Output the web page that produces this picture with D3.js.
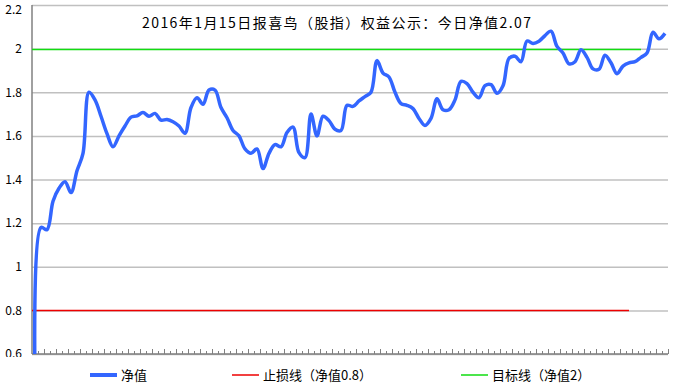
<!DOCTYPE html>
<html>
<head>
<meta charset="utf-8">
<script src="https://cdn.jsdelivr.net/npm/d3@7"></script>
<style>
  body { margin: 0; background: #fff; }
  svg text { font-family: "Noto Sans CJK SC", "DejaVu Sans", sans-serif; fill: #000; }
</style>
</head>
<body>
<svg width="686" height="385"></svg>
<script>
// net value series, one point per week
const netValues = [
  0.5, 1.18, 1.17, 1.30, 1.36, 1.39, 1.34, 1.44, 1.52, 1.80,
  1.765, 1.69, 1.61, 1.55, 1.60, 1.645, 1.686, 1.692, 1.707, 1.69,
  1.703, 1.672, 1.675, 1.665, 1.645, 1.612, 1.73, 1.775, 1.745, 1.81,
  1.81, 1.73, 1.683, 1.625, 1.60, 1.54, 1.52, 1.54, 1.45, 1.52,
  1.56, 1.55, 1.615, 1.64, 1.523, 1.50, 1.70, 1.60, 1.69, 1.67,
  1.63, 1.625, 1.74, 1.735, 1.76, 1.78, 1.80, 1.945, 1.888, 1.87,
  1.80, 1.748, 1.74, 1.725, 1.68, 1.648, 1.68, 1.77, 1.72, 1.72,
  1.765, 1.85, 1.84, 1.80, 1.775, 1.83, 1.835, 1.795, 1.83, 1.955,
  1.965, 1.94, 2.035, 2.024, 2.034, 2.06, 2.08, 2.01, 1.98, 1.93,
  1.94, 1.995, 1.96, 1.907, 1.905, 1.97, 1.935, 1.885, 1.92, 1.935,
  1.94, 1.96, 1.98, 2.075, 2.045, 2.07
];
const categories = netValues.map((d, i) => i + 1);

const yTicks = [0.6, 0.8, 1.0, 1.2, 1.4, 1.6, 1.8, 2.0, 2.2];
const yTickLabels = ["0.6", "0.8", "1", "1.2", "1.4", "1.6", "1.8", "2", "2.2"];

// reference lines: value, and the category where the drawn line stops
const stopLoss = { value: 0.8, endCategory: 100 };
const target = { value: 2.0, endCategory: 102 };

const title = "2016年1月15日报喜鸟（股指）权益公示：今日净值2.07";
const legendLabels = ["净值", "止损线（净值0.8）", "目标线（净值2）"];
const colors = ["#3366ff", "#ee0000", "#11dd11"];

const svg = d3.select("svg");
const plotL = 32, plotR = 668, plotT = 5, plotB = 354;

const x = d3.scaleBand().domain(categories).range([plotL, plotR]);
const y = d3.scaleLinear().domain([0.6, 2.2]).range([plotB, plotT]);

const defs = svg.append("defs");
defs.append("clipPath").attr("id", "plot")
  .append("rect").attr("x", plotL).attr("y", plotT)
  .attr("width", plotR - plotL).attr("height", plotB - plotT);
defs.append("clipPath").attr("id", "labels")
  .append("rect").attr("x", -40).attr("y", 0).attr("width", 720).attr("height", 357);

// y axis with grid
const yAxis = svg.append("g")
  .attr("clip-path", "url(#labels)")
  .append("g")
  .attr("transform", `translate(${plotL},0)`)
  .call(d3.axisLeft(y).tickValues(yTicks).tickSize(-(plotR - plotL)).tickPadding(10)
    .tickFormat((d, i) => yTickLabels[i]));
yAxis.select(".domain").remove();
yAxis.selectAll(".tick line").attr("stroke", "#c0c0c0").attr("stroke-width", 1.5);
yAxis.selectAll(".tick text").attr("font-size", 12)
  .attr("font-family", "Noto Sans CJK SC")
  .attr("dy", (d, i) => i === yTicks.length - 1 ? "0.7em" : "0.32em");

// axis lines
svg.append("line").attr("x1", plotL).attr("x2", plotL).attr("y1", plotT).attr("y2", plotB)
  .attr("stroke", "#808080").attr("stroke-width", 1.5);
svg.append("line").attr("x1", plotL).attr("x2", plotR).attr("y1", plotB).attr("y2", plotB)
  .attr("stroke", "#808080").attr("stroke-width", 1.5);

// category tick marks
svg.append("g").selectAll("line")
  .data(categories)
  .join("line")
  .attr("x1", d => Math.round(x(d) + x.bandwidth()) + 0.5)
  .attr("x2", d => Math.round(x(d) + x.bandwidth()) + 0.5)
  .attr("y1", plotB)
  .attr("y2", (d, i) => i % 2 ? plotB - 5 : plotB - 3)
  .attr("stroke", "#808080");

// reference lines
[[stopLoss, colors[1]], [target, colors[2]]].forEach(([r, c]) => {
  svg.append("line")
    .attr("x1", plotL)
    .attr("x2", x(r.endCategory) + x.bandwidth() / 2)
    .attr("y1", Math.round(y(r.value)) + 0.5)
    .attr("y2", Math.round(y(r.value)) + 0.5)
    .attr("stroke", c).attr("stroke-width", 1.5);
});

// net value line
const line = d3.line()
  .x((d, i) => x(categories[i]) + x.bandwidth() / 2)
  .y(d => y(d))
  .curve(d3.curveCatmullRom);

svg.append("path")
  .datum(netValues)
  .attr("clip-path", "url(#plot)")
  .attr("fill", "none")
  .attr("stroke", colors[0])
  .attr("stroke-width", 3.5)
  .attr("stroke-linejoin", "round")
  .attr("d", line);

// title
svg.append("text")
  .attr("x", 142).attr("y", 28)
  .attr("font-size", 14)
  .attr("textLength", 389)
  .attr("lengthAdjust", "spacing")
  .text(title);

// legend
const legendX = [90, 232, 461];
const legend = svg.append("g").selectAll("g")
  .data(legendLabels)
  .join("g")
  .attr("transform", (d, i) => `translate(${legendX[i]},375)`);
legend.append("line")
  .attr("x1", 0).attr("x2", 27)
  .attr("stroke", (d, i) => colors[i])
  .attr("stroke-width", (d, i) => i === 0 ? 4 : 1.5);
legend.append("text")
  .attr("x", 31).attr("y", 5)
  .attr("font-size", 13)
  .text(d => d);
</script>
</body>
</html>
